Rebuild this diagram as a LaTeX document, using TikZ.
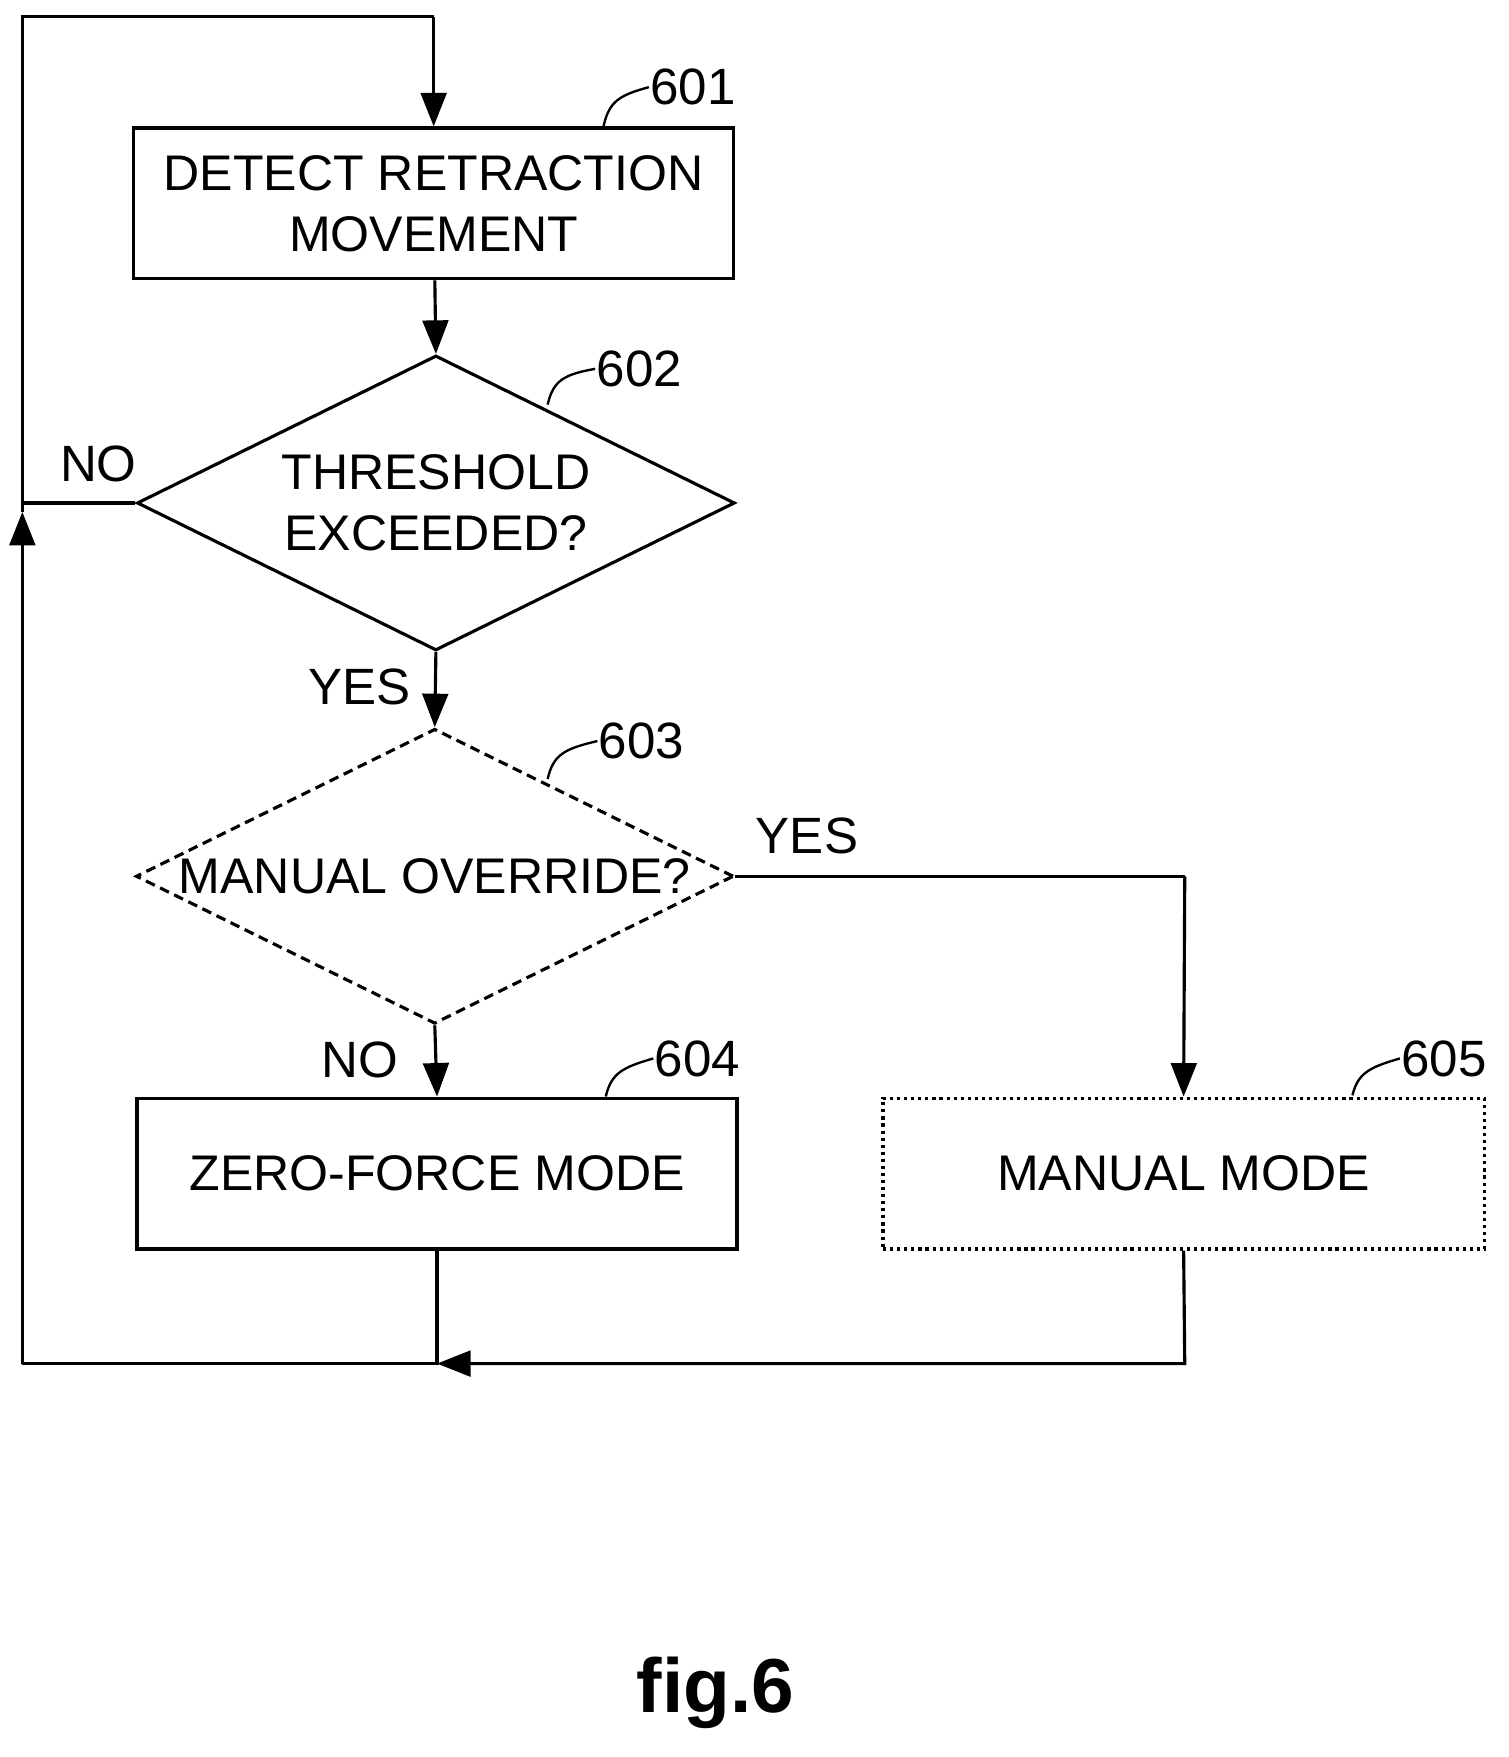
\documentclass[tikz,border=0pt]{standalone}
\usepackage{fontspec}
\setmainfont{Liberation Sans}
\usetikzlibrary{arrows.meta,shapes.geometric}
\begin{document}
\begin{tikzpicture}[x=0.02cm,y=-0.02cm,
  line width=1.6pt,
  >={Triangle[width=0.46cm,length=0.6cm]},
  txt/.style={font=\fontsize{25.5}{31}\selectfont,align=center},
  box/.style={draw,minimum width=10.74cm,minimum height=2.7cm,inner sep=0pt,txt},
  dia/.style={draw,diamond,aspect=2.03,minimum width=10.7cm,minimum height=5.28cm,inner sep=0pt,txt},
  lbl/.style={font=\fontsize{26}{32}\selectfont,inner sep=0pt}]
\useasboundingbox (0,0) rectangle (1350,1572);
\node[box] (b601) at (388,182) {DETECT RETRACTION\\MOVEMENT};
\node[dia] (d602) at (390,450) {THRESHOLD\\EXCEEDED?};
\node[dia,dash pattern=on 5pt off 3pt] (d603) at (389,784) {MANUAL OVERRIDE?};
\node[box] (b604) at (391,1050) {ZERO-FORCE MODE};
\node[box,dotted,minimum width=10.76cm] (b605) at (1059,1050) {MANUAL MODE};
\coordinate (tl) at (20,15);
\coordinate (tm) at (388,15);
\coordinate (bl) at (20,1220);
\coordinate (bm) at (391,1220);
\coordinate (br) at (1060,1220);
\coordinate (mr) at (1060,784);
\coordinate (nl) at (20,450);
\draw[->] (b601) -- (d602.north);
\draw[->] (d602.south) -- (d603.north);
\draw[->] (d603.south) -- (b604.north);
\draw (d602.west) -- (nl);
\draw[->] (bl) -- (20,458);
\draw (20,458) -- (tl) -- (tm);
\draw[->] (tm) -- (b601.north);
\draw (d603.east) -- (mr);
\draw[->] (mr) -- (b605.north);
\draw (b604.south) -- (bm) -- (bl);
\draw[->] (b605.south) -- (br) -- (bm);
\node[lbl] (no1) at (88,415) {NO};
\node[lbl] (yes1) at (322,615) {YES};
\node[lbl] (yes2) at (722,748) {YES};
\node[lbl] (no2) at (322,948) {NO};
\node[lbl] (n601) at (620,78) {601};
\node[lbl] (n602) at (572,330) {602};
\node[lbl] (n603) at (574,663) {603};
\node[lbl] (n604) at (624,947) {604};
\node[lbl] (n605) at (1292,947) {605};
\draw[line width=1.2pt] (540,113) .. controls (545,90) and (555,85) .. (n601.west);
\draw[line width=1.2pt] (490,362) .. controls (495,340) and (505,335) .. (n602.west);
\draw[line width=1.2pt] (490,697) .. controls (495,675) and (505,670) .. (n603.west);
\draw[line width=1.2pt] (542,981) .. controls (547,960) and (557,955) .. (n604.west);
\draw[line width=1.2pt] (1210,980) .. controls (1215,960) and (1225,955) .. (n605.west);
\node[font=\fontsize{39}{45}\selectfont\bfseries] (fig) at (640,1515) {fig.6};
\end{tikzpicture}
\end{document}
